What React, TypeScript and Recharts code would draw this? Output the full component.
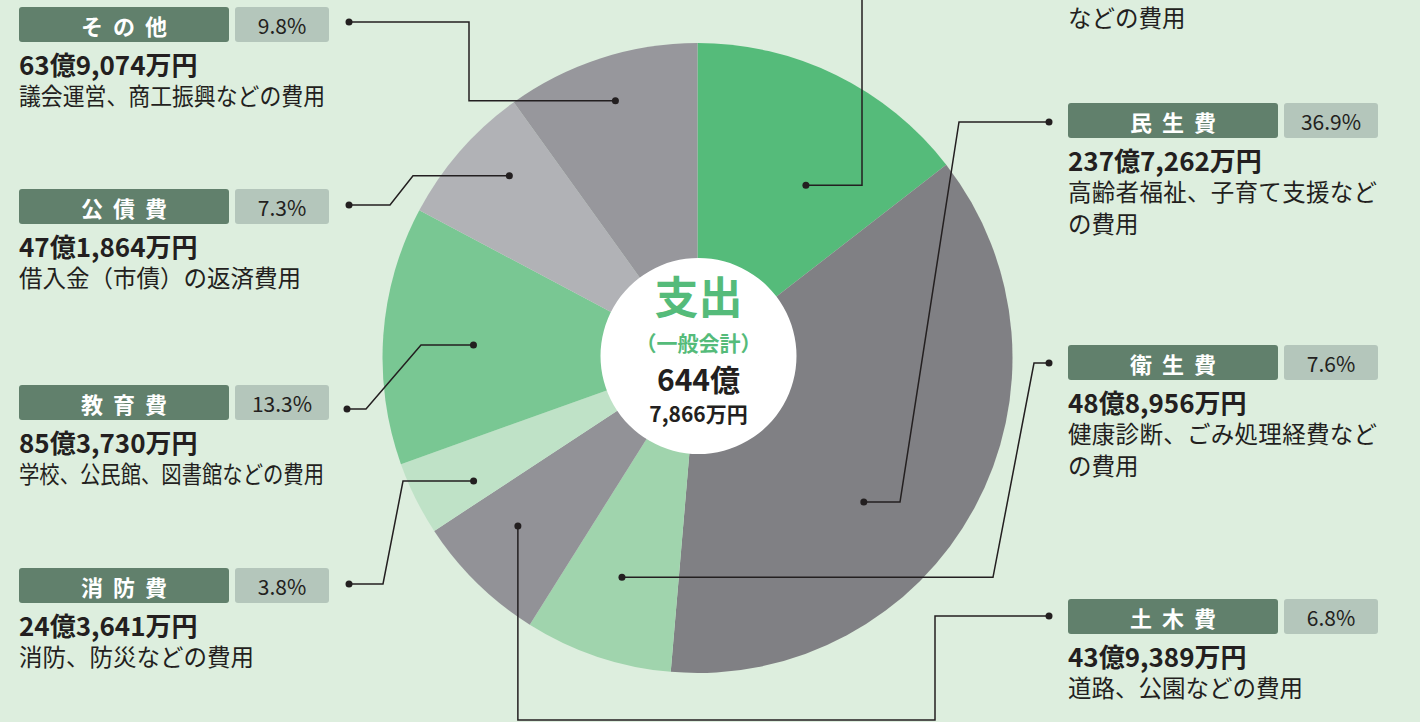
import { PieChart, Pie, Cell } from 'recharts';

// 支出（一般会計）644億7,866万円 の内訳、単位は万円
const categories = ['総務費', '民生費', '衛生費', '土木費', '消防費', '教育費', '公債費', 'その他'];
const amounts = [933950, 2377262, 488956, 439389, 243641, 853730, 471864, 639074];
const shares = ['14.5%', '36.9%', '7.6%', '6.8%', '3.8%', '13.3%', '7.3%', '9.8%'];
const descriptions = [
    ['', 'などの費用'],
    ['高齢者福祉、子育て支援など', 'の費用'],
    ['健康診断、ごみ処理経費など', 'の費用'],
    ['道路、公園などの費用'],
    ['消防、防災などの費用'],
    ['学校、公民館、図書館などの費用'],
    ['借入金（市債）の返済費用'],
    ['議会運営、商工振興などの費用'],
];
const totalTitle = '支出';
const totalSub = '（一般会計）';
const totalOku = '644億';
const totalMan = '7,866万円';

const colors = ['#55bb7a', '#808084', '#a0d4ad', '#929297', '#bfe2c7', '#79c793', '#b1b2b6', '#97979c'];

const FONT = "'Noto Sans CJK JP', 'Noto Sans', sans-serif";
const INK = '#231f20';
const DESC_SIZE = 23.5;

// label block position + leader route (angle clockwise from 12 o'clock, radius of inner dot)
const layout = [
    { bx: 1068, by: -103, maxW: 309, anchor: [32.1, 204], first: { h: 862 }, route: [[862, -10]], endDot: false },
    { bx: 1068, by: 103, maxW: 309, anchor: [130.9, 220], first: { h: 900 }, route: [[959, 122], [1049, 122]], endDot: true },
    { bx: 1068, by: 345, maxW: 309, anchor: [199, 232], first: { h: 993 }, route: [[1034, 363], [1049, 363]], endDot: true },
    { bx: 1068, by: 599, maxW: 309, anchor: [226.9, 246], first: { v: 720 }, route: [[935, 720], [935, 616], [1049, 616]], endDot: true },
    { bx: 19, by: 568, maxW: 306, anchor: [241.2, 255.5], first: { h: 403 }, route: [[383, 584], [349, 584]], endDot: true },
    { bx: 19, by: 385, maxW: 305, anchor: [273.3, 224.4], first: { h: 421 }, route: [[366, 409], [347, 409]], endDot: true },
    { bx: 19, by: 189, maxW: 306, anchor: [314.1, 262], first: { h: 413 }, route: [[390, 205], [349, 205]], endDot: true },
    { bx: 19, by: 7, maxW: 306, anchor: [342.3, 270], first: { h: 469 }, route: [[469, 22], [349, 22]], endDot: true },
];

const data = categories.map((name, i) => ({ name, value: amounts[i] }));

function fmtAmount(v: number) {
    const oku = Math.floor(v / 10000);
    const man = v % 10000;
    return `${oku}億${man.toLocaleString('en-US')}万円`;
}

function polar(cx: number, cy: number, r: number, deg: number) {
    const a = (deg * Math.PI) / 180;
    return [cx + r * Math.sin(a), cy - r * Math.cos(a)];
}

function renderLabel(props: any) {
    const { cx, cy, index } = props;
    const lay = layout[index];
    const [dx, dy] = polar(cx, cy, lay.anchor[1], lay.anchor[0]);
    const pts: number[][] = [[dx, dy]];
    if ('h' in lay.first) pts.push([lay.first.h as number, dy]);
    else pts.push([dx, lay.first.v as number]);
    lay.route.forEach((p) => pts.push(p));
    const last = pts[pts.length - 1];
    const { bx, by } = lay;
    const onPage = by >= 0;
    const lines = descriptions[index];
    return (
        <g key={`lbl-${index}`}>
            <polyline points={pts.map((p) => p.join(',')).join(' ')} fill="none" stroke={INK} strokeWidth={1.5} />
            <circle cx={dx} cy={dy} r={3.5} fill={INK} />
            {lay.endDot && <circle cx={last[0]} cy={last[1]} r={3.5} fill={INK} />}
            {onPage && (
                <g>
                    <rect x={bx} y={by} width={210} height={35} rx={3} fill="#61806c" />
                    <text x={bx + 110} y={by + 18} textAnchor="middle" dominantBaseline="central" fill="#ffffff"
                        fontFamily={FONT} fontSize={22} fontWeight={700} letterSpacing={10}>{categories[index]}</text>
                    <rect x={bx + 216} y={by} width={94} height={35} rx={3} fill="#b4c6bb" />
                    <text x={bx + 263} y={by + 18} textAnchor="middle" dominantBaseline="central" fill={INK}
                        fontFamily={FONT} fontSize={21}>{shares[index]}</text>
                    <text x={bx} y={by + 68} fill={INK} fontFamily={FONT} fontSize={26} fontWeight={700}>{fmtAmount(amounts[index])}</text>
                </g>
            )}
            {lines.map((line, i) => {
                const y = by + 98 + i * 32;
                if (y < 0 || line === '') return null;
                const natural = line.length * DESC_SIZE;
                const wrapped = i < lines.length - 1;
                const fit = wrapped || natural > lay.maxW;
                return (
                    <text key={i} x={bx} y={y} fill={INK} fontFamily={FONT} fontSize={DESC_SIZE}
                        textLength={fit ? lay.maxW : undefined}
                        lengthAdjust={fit ? (natural > lay.maxW ? 'spacingAndGlyphs' : 'spacing') : undefined}>
                        {line}
                    </text>
                );
            })}
        </g>
    );
}

function renderCenter(props: any) {
    const { cx, cy } = props;
    return (
        <g key="center">
            <text x={cx} y={cy - 42} textAnchor="middle" fill="#55bb7a" fontFamily={FONT} fontSize={44} fontWeight={700}>{totalTitle}</text>
            <text x={cx} y={cy - 5} textAnchor="middle" fill="#55bb7a" fontFamily={FONT} fontSize={21} fontWeight={700}>{totalSub}</text>
            <text x={cx} y={cy + 35} textAnchor="middle" fill={INK} fontFamily={FONT} fontSize={30} fontWeight={700}>{totalOku}</text>
            <text x={cx} y={cy + 66} textAnchor="middle" fill={INK} fontFamily={FONT} fontSize={21} fontWeight={700}>{totalMan}</text>
        </g>
    );
}

export default function App() {
    return (
        <div style={{ position: 'absolute', left: 0, top: 0, width: 1420, height: 722, background: '#ddeede', overflow: 'hidden' }}>
            <PieChart width={1420} height={722} margin={{ top: 0, right: 0, bottom: 0, left: 0 }}>
                <Pie
                    data={data}
                    dataKey="value"
                    cx={697.5}
                    cy={358}
                    outerRadius={315}
                    startAngle={90}
                    endAngle={-270}
                    stroke="none"
                    label={renderLabel}
                    labelLine={false}
                    isAnimationActive={false}
                >
                    {data.map((d, i) => (
                        <Cell key={d.name} fill={colors[i]} />
                    ))}
                </Pie>
                <Pie
                    data={[{ name: 'total', value: 1 }]}
                    dataKey="value"
                    cx={698.5}
                    cy={356}
                    outerRadius={98}
                    startAngle={90}
                    endAngle={-270}
                    fill="#ffffff"
                    stroke="none"
                    label={renderCenter}
                    labelLine={false}
                    isAnimationActive={false}
                />
            </PieChart>
        </div>
    );
}
